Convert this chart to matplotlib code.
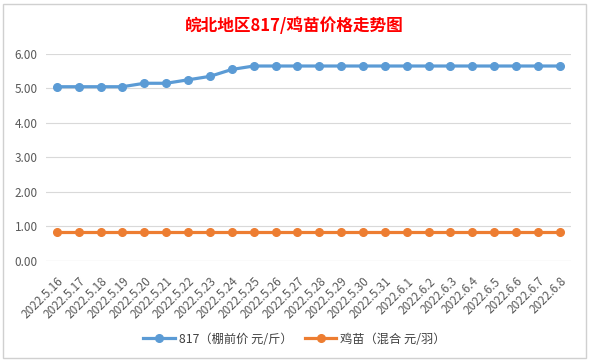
import matplotlib.pyplot as plt
from matplotlib.patches import Rectangle

plt.rcParams['font.family'] = ['Noto Sans CJK SC', 'DejaVu Sans']

dates = ['2022.5.16', '2022.5.17', '2022.5.18', '2022.5.19', '2022.5.20', '2022.5.21',
         '2022.5.22', '2022.5.23', '2022.5.24', '2022.5.25', '2022.5.26', '2022.5.27',
         '2022.5.28', '2022.5.29', '2022.5.30', '2022.5.31', '2022.6.1', '2022.6.2',
         '2022.6.3', '2022.6.4', '2022.6.5', '2022.6.6', '2022.6.7', '2022.6.8']
price_817 = [5.05, 5.05, 5.05, 5.05, 5.15, 5.15, 5.25, 5.35, 5.55, 5.65, 5.65, 5.65,
             5.65, 5.65, 5.65, 5.65, 5.65, 5.65, 5.65, 5.65, 5.65, 5.65, 5.65, 5.65]
price_chick = [0.85] * 24
yticks = [0, 1, 2, 3, 4, 5, 6]

fig = plt.figure(figsize=(5.89, 3.62), dpi=100)
ax = fig.add_axes([0.078, 0.279, 0.891, 0.572])

x = list(range(len(dates)))
ax.plot(x, price_817, color='#5B9BD5', lw=2.3, marker='o', ms=5.5,
        label='817（棚前价 元/斤）', zorder=3)
ax.plot(x, price_chick, color='#ED7D31', lw=2.3, marker='o', ms=5.5,
        label='鸡苗（混合 元/羽）', zorder=3)

ax.set_xlim(-0.5, len(dates) - 0.5)
ax.set_ylim(0, 6)
ax.set_yticks(yticks)
ax.set_yticklabels([f'{v:.2f}' for v in yticks], fontsize=8.5, color='#595959')
ax.set_xticks(x)
ax.set_xticklabels(dates, rotation=45, ha='right', rotation_mode='anchor',
                   fontsize=8.5, color='#595959')
ax.tick_params(axis='x', length=0, pad=10)
ax.tick_params(axis='y', length=0, pad=6)
for lab in ax.get_xticklabels():
    lab.set_x(lab.get_position()[0])
ax.grid(axis='y', color='#D9D9D9', lw=0.8)
for s in ax.spines.values():
    s.set_visible(False)
ax.axhline(0, color='#D9D9D9', lw=0.8)

fig.text(0.5, 0.928, '皖北地区817/鸡苗价格走势图', ha='center', va='center',
         fontsize=12, fontweight='bold', color='#FF0000')

fig.legend(loc='center', bbox_to_anchor=(0.5, 0.063), ncol=2, frameon=False,
           fontsize=8.8, handlelength=2.6, handletextpad=0.3, columnspacing=1.0,
           labelcolor='#404040')

fig.patches.append(Rectangle((3 / 589, 4 / 362), 583 / 589, 354 / 362,
                             transform=fig.transFigure, fill=False,
                             edgecolor='#D0D0D0', lw=1))

fig.savefig('out.png', dpi=100)
